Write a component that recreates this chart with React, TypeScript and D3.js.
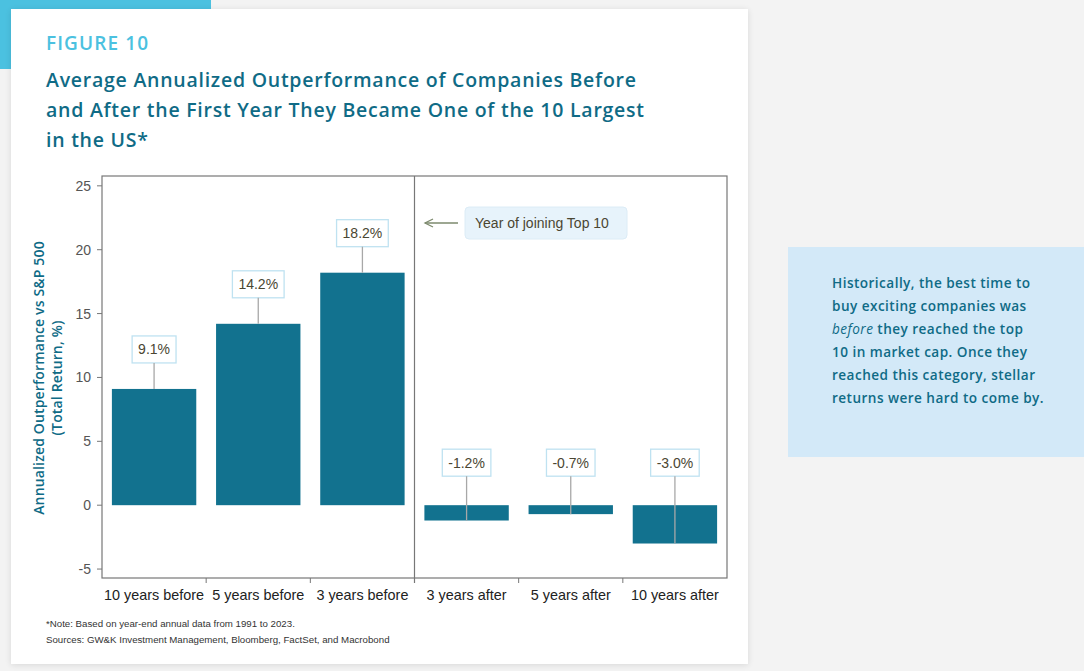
import React, { useEffect, useRef } from "react";
import * as d3 from "d3";

const categories = ["10 years before", "5 years before", "3 years before", "3 years after", "5 years after", "10 years after"];
const values = [9.1, 14.2, 18.2, -1.2, -0.7, -3.0];
const yTicks = [-5, 0, 5, 10, 15, 20, 25];
const titleLines = [
  "Average Annualized Outperformance of Companies Before",
  "and After the First Year They Became One of the 10 Largest",
  "in the US*",
];
const sideLines: [string, boolean][][] = [
  [["Historically, the best time to", false]],
  [["buy exciting companies was", false]],
  [["before", true], [" they reached the top", false]],
  [["10 in market cap. Once they", false]],
  [["reached this category, stellar", false]],
  [["returns were hard to come by.", false]],
];
const notes = [
  "*Note: Based on year-end annual data from 1991 to 2023.",
  "Sources: GW&K Investment Management, Bloomberg, FactSet, and Macrobond",
];

const W = 1084;
const H = 671;
const TEAL = "#0f6b86";
const BAR = "#12728f";
const ARIAL = "'Liberation Sans', Arial, sans-serif";
const HEAD = "'Open Sans', 'Noto Sans', sans-serif";

export default function App() {
  const ref = useRef<SVGSVGElement | null>(null);
  useEffect(() => {
    const svg = d3.select(ref.current);
    svg.selectAll("*").remove();

    svg.append("rect").attr("width", W).attr("height", H).attr("fill", "#f3f3f3");
    svg.append("rect").attr("x", 0).attr("y", 0).attr("width", 211).attr("height", 69).attr("fill", "#4bc1e0");
    const defs = svg.append("defs");
    const f = defs.append("filter").attr("id", "sh").attr("x", "-5%").attr("y", "-5%").attr("width", "110%").attr("height", "110%");
    f.append("feGaussianBlur").attr("in", "SourceAlpha").attr("stdDeviation", 3);
    f.append("feOffset").attr("dx", 0).attr("dy", 1).attr("result", "o");
    f.append("feComponentTransfer").append("feFuncA").attr("type", "linear").attr("slope", 0.12);
    const m = f.append("feMerge");
    m.append("feMergeNode");
    m.append("feMergeNode").attr("in", "SourceGraphic");
    svg.append("rect").attr("x", 11).attr("y", 9).attr("width", 737).attr("height", 655).attr("fill", "#fff").attr("filter", "url(#sh)");

    svg.append("text").attr("x", 46).attr("y", 50).attr("fill", "#4bc1e0")
      .style("font-family", HEAD).style("font-size", "19px").style("font-weight", 600).style("letter-spacing", "1.1px").text("FIGURE 10");
    titleLines.forEach((t, i) => {
      svg.append("text").attr("x", 46).attr("y", 87 + i * 30).attr("fill", TEAL)
        .style("font-family", HEAD).style("font-size", "19.5px").style("font-weight", 600).style("letter-spacing", "0.75px").text(t);
    });

    // side box
    svg.append("rect").attr("x", 788).attr("y", 247).attr("width", 296).attr("height", 210).attr("fill", "#d3e9f8");
    sideLines.forEach((segs, i) => {
      const t = svg.append("text").attr("x", 832).attr("y", 288 + i * 22.9).attr("fill", TEAL)
        .style("font-family", HEAD).style("font-size", "13.6px").style("letter-spacing", "0.45px");
      segs.forEach(([s, it]) => {
        t.append("tspan").text(s).style("font-style", it ? "italic" : "normal").style("font-weight", it ? 400 : 600);
      });
    });

    // chart
    const L = 102, R = 727, T = 176, B = 578;
    const x = d3.scaleBand<string>().domain(categories).range([L, R]).paddingInner(0.19).paddingOuter(0.095);
    const xb = d3.scaleBand<string>().domain(categories).range([L, R]);
    const y = d3.scaleLinear().domain([-5.7, 25.77]).range([B, T]);

    const g = svg.append("g");
    g.append("rect").attr("x", L).attr("y", T).attr("width", R - L).attr("height", B - T)
      .attr("fill", "none").attr("stroke", "#777").attr("stroke-width", 1.2);
    const div = xb(categories[3])!;
    g.append("line").attr("x1", div).attr("x2", div).attr("y1", T).attr("y2", B + 5).attr("stroke", "#777").attr("stroke-width", 1.2);
    categories.slice(1).forEach((c) => {
      const xx = xb(c)!;
      g.append("line").attr("x1", xx).attr("x2", xx).attr("y1", B).attr("y2", B + 5).attr("stroke", "#777");
    });
    yTicks.forEach((v) => {
      g.append("line").attr("x1", L - 5).attr("x2", L).attr("y1", y(v)).attr("y2", y(v)).attr("stroke", "#777");
      g.append("text").attr("x", L - 11).attr("y", y(v) + 5).attr("text-anchor", "end").attr("fill", "#555")
        .style("font-family", ARIAL).style("font-size", "14px").text(String(v));
    });
    categories.forEach((c) => {
      g.append("text").attr("x", xb(c)! + xb.bandwidth() / 2).attr("y", 600).attr("text-anchor", "middle").attr("fill", "#222")
        .style("font-family", ARIAL).style("font-size", "14.4px").text(c);
    });

    // y label
    const yl = g.append("text").attr("transform", `translate(44,378) rotate(-90)`).attr("text-anchor", "middle").attr("fill", TEAL)
      .style("font-family", HEAD).style("font-size", "14px").style("font-weight", 600).style("letter-spacing", "0.15px");
    yl.append("tspan").attr("x", 0).attr("dy", 0).text("Annualized Outperformance vs S&P 500");
    yl.append("tspan").attr("x", 0).attr("dy", 18).text("(Total Return, %)");

    // bars
    values.forEach((v, i) => {
      const c = categories[i];
      const x0 = x(c)!;
      const cx = x0 + x.bandwidth() / 2;
      g.append("rect").attr("x", x0).attr("width", x.bandwidth())
        .attr("y", y(Math.max(0, v))).attr("height", Math.abs(y(v) - y(0))).attr("fill", BAR);
      const boxBottom = v >= 0 ? y(v) - 26 : y(0) - 29;
      const boxH = 27;
      const label = `${v.toFixed(1)}%`;
      const tx = g.append("text").attr("x", cx).attr("y", boxBottom - boxH / 2 + 5).attr("text-anchor", "middle")
        .attr("fill", "#4a4632").style("font-family", ARIAL).style("font-size", "14px").text(label);
      const tw = (tx.node() as SVGTextElement).getComputedTextLength();
      const bw = tw + 12;
      g.append("line").attr("x1", cx).attr("x2", cx).attr("y1", boxBottom).attr("y2", y(v))
        .attr("stroke", "#a8a8a8").attr("stroke-width", 1.3);
      g.insert("rect", () => tx.node() as any).attr("x", cx - bw / 2).attr("y", boxBottom - boxH).attr("width", bw).attr("height", boxH)
        .attr("fill", "#fff").attr("stroke", "#bfe2f1").attr("stroke-width", 1.3);
    });

    // annotation
    const ay = 223;
    g.append("line").attr("x1", 425).attr("x2", 458).attr("y1", ay).attr("y2", ay).attr("stroke", "#7d8a6e").attr("stroke-width", 1.3);
    g.append("path").attr("d", `M433,${ay - 4} L425,${ay} L433,${ay + 4}`).attr("fill", "none").attr("stroke", "#7d8a6e").attr("stroke-width", 1.3);
    g.append("rect").attr("x", 465).attr("y", 207).attr("width", 162).attr("height", 32).attr("rx", 4)
      .attr("fill", "#e7f3fb").attr("stroke", "#dcecf6");
    g.append("text").attr("x", 475).attr("y", ay + 5).attr("fill", "#4a4632")
      .style("font-family", ARIAL).style("font-size", "14px").text("Year of joining Top 10");

    notes.forEach((n, i) => {
      svg.append("text").attr("x", 46).attr("y", 627 + i * 16).attr("fill", "#333")
        .style("font-family", ARIAL).style("font-size", "9.7px").text(n);
    });
  }, []);
  return <svg ref={ref} width={W} height={H} style={{ display: "block", position: "absolute", left: 0, top: 0 }} />;
}
